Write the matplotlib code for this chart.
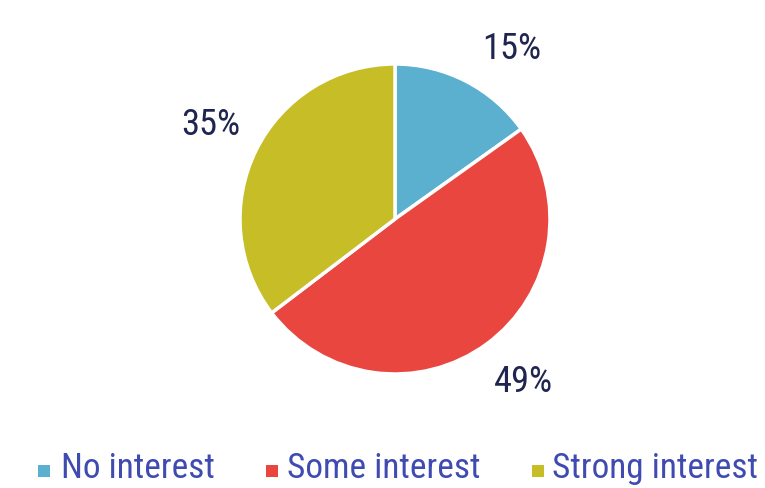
import matplotlib
matplotlib.use("Agg")
import numpy as np
import matplotlib.pyplot as plt
from matplotlib.patches import Rectangle
from matplotlib import font_manager

categories = ["No interest", "Some interest", "Strong interest"]
values = [15, 49, 35]
colors = ["#5BAFCF", "#E8463F", "#C6BD27"]

names = {f.name for f in font_manager.fontManager.ttflist}
family = next((n for n in ["Roboto Condensed", "PT Sans Narrow", "Fira Sans Condensed"]
               if n in names), "DejaVu Sans")
weight = "normal"

W, H = 765, 489
fig = plt.figure(figsize=(W / 100, H / 100), dpi=100)
canvas = fig.add_axes([0, 0, 1, 1])
canvas.set_xlim(0, W)
canvas.set_ylim(H, 0)
canvas.axis("off")
renderer = fig.canvas.get_renderer()


def fitted_size(text, target_px, base=20):
    t = canvas.text(0, 0, text, fontsize=base, family=family, weight=weight)
    w = t.get_window_extent(renderer).width
    t.remove()
    return base * target_px / w


# pie, radius 155 px, centred at (395, 220)
cx, cy, r = 395, 220, 155
pie_ax = fig.add_axes([(cx - r) / W, 1 - (cy + r) / H, 2 * r / W, 2 * r / H])
wedges, _ = pie_ax.pie(values, colors=colors, startangle=90, counterclock=False,
                       wedgeprops=dict(edgecolor="white", linewidth=2.5))
pie_ax.set_xlim(-1, 1)
pie_ax.set_ylim(-1, 1)
pie_ax.set_aspect("equal")

# percentage labels outside each wedge
pct_size = fitted_size("15%", 59)
angle_shift = [-7, 2, -1]
for w, v, d in zip(wedges, values, angle_shift):
    mid = np.deg2rad((w.theta1 + w.theta2) / 2 + d)
    pie_ax.text(1.335 * np.cos(mid), 1.335 * np.sin(mid), f"{v}%",
                ha="center", va="center", fontsize=pct_size, color="#1F2550",
                family=family, weight=weight, clip_on=False)

# legend row
leg_size = fitted_size("No interest", 153)
marker_x = [38, 266, 532]
text_x = [61, 287, 552]
for c, label, mx, tx in zip(colors, categories, marker_x, text_x):
    canvas.add_patch(Rectangle((mx, 466), 12, 12, facecolor=c, edgecolor="none"))
    canvas.text(tx, 478, label, ha="left", va="baseline", fontsize=leg_size,
                color="#3F4BB0", family=family, weight=weight)

fig.savefig("out.png", dpi=100)
